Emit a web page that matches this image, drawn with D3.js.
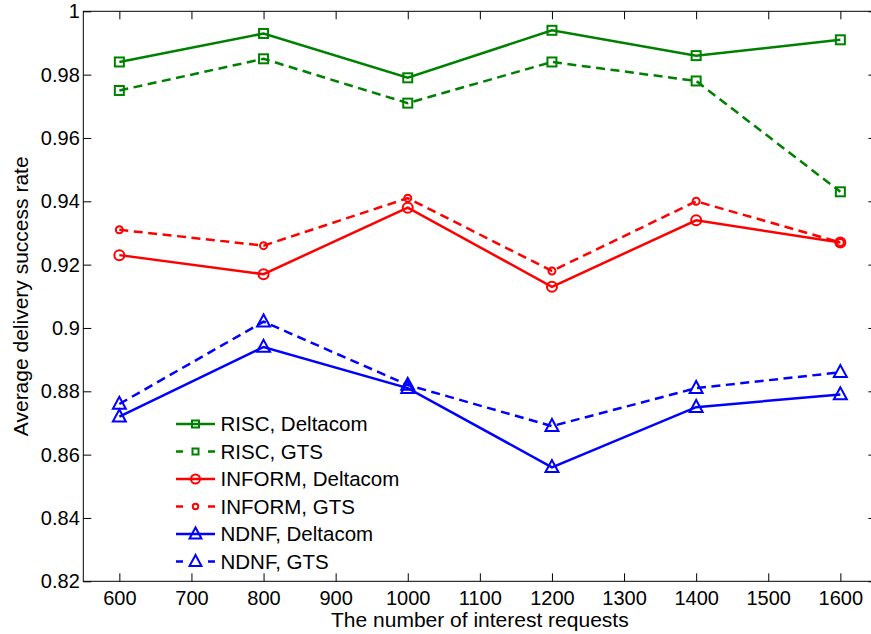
<!DOCTYPE html>
<html><head><meta charset="utf-8">
<script src="https://cdn.jsdelivr.net/npm/d3@7"></script>
<style>
html,body{margin:0;padding:0;background:#fff;}
svg{display:block;font-family:"Liberation Sans",Arial,Helvetica,sans-serif;}
</style></head>
<body><svg id="chart" width="871" height="634"></svg>
<script>
const requests = [600, 800, 1000, 1200, 1400, 1600];
const xTicks = [600, 700, 800, 900, 1000, 1100, 1200, 1300, 1400, 1500, 1600];
const yTicks = [0.82, 0.84, 0.86, 0.88, 0.9, 0.92, 0.94, 0.96, 0.98, 1];
const yTickLabels = ["0.82","0.84","0.86","0.88","0.9","0.92","0.94","0.96","0.98","1"];

const riscDeltacom   = [0.984, 0.993, 0.979, 0.994, 0.986, 0.991];
const riscGTS        = [0.975, 0.985, 0.971, 0.984, 0.978, 0.943];
const informDeltacom = [0.923, 0.917, 0.938, 0.913, 0.934, 0.927];
const informGTS      = [0.931, 0.926, 0.941, 0.918, 0.940, 0.927];
const ndnfDeltacom   = [0.872, 0.894, 0.881, 0.856, 0.875, 0.879];
const ndnfGTS        = [0.876, 0.902, 0.882, 0.869, 0.881, 0.886];

const seriesNames = ["RISC, Deltacom","RISC, GTS","INFORM, Deltacom","INFORM, GTS","NDNF, Deltacom","NDNF, GTS"];

const series = [
  {name: seriesNames[0], values: riscDeltacom,   color:"#008000", dashed:false, marker:"square", size:9,  lsize:7},
  {name: seriesNames[1], values: riscGTS,        color:"#008000", dashed:true,  marker:"square", size:9,  lsize:6},
  {name: seriesNames[2], values: informDeltacom, color:"#ff0000", dashed:false, marker:"circle", size:10, lsize:9},
  {name: seriesNames[3], values: informGTS,      color:"#ff0000", dashed:true,  marker:"circle", size:7,  lsize:5.5},
  {name: seriesNames[4], values: ndnfDeltacom,   color:"#0000ff", dashed:false, marker:"triangle", size:12, lsize:11},
  {name: seriesNames[5], values: ndnfGTS,        color:"#0000ff", dashed:true,  marker:"triangle", size:12, lsize:11}
];

const svg = d3.select("#chart");
const L = 83.3, R = 876.4, T = 11.3, B = 581.3;
const x = d3.scaleLinear().domain([550, 1650]).range([L, R]);
const y = d3.scaleLinear().domain([0.82, 1]).range([B, T]);
const tickFont = 20;
const labelFont = 21;
const legendFont = 20.5;

svg.append("rect").attr("x", L).attr("y", T).attr("width", R - L).attr("height", B - T)
  .attr("fill", "none").attr("stroke", "#000").attr("stroke-width", 1);

function styleAxis(g){
  g.select(".domain").remove();
  g.selectAll(".tick line").attr("stroke", "#000").attr("stroke-width", 1);
  g.selectAll(".tick text").attr("fill", "#000").style("font-size", tickFont + "px")
    .style("font-family", '"Liberation Sans",Arial,Helvetica,sans-serif');
}

svg.append("g").attr("transform", `translate(0,${B})`)
  .call(d3.axisBottom(x).tickValues(xTicks).tickFormat(d3.format("d")).tickSizeInner(-8).tickSizeOuter(0).tickPadding(10))
  .call(styleAxis);
svg.append("g").attr("transform", `translate(0,${T})`)
  .call(d3.axisTop(x).tickValues(xTicks).tickFormat("").tickSizeInner(-8).tickSizeOuter(0))
  .call(styleAxis);
svg.append("g").attr("transform", `translate(${L},0)`)
  .call(d3.axisLeft(y).tickValues(yTicks).tickFormat((d,i) => yTickLabels[i]).tickSizeInner(-8).tickSizeOuter(0).tickPadding(3.5))
  .call(styleAxis);
svg.append("g").attr("transform", `translate(${R},0)`)
  .call(d3.axisRight(y).tickValues(yTicks).tickFormat("").tickSizeInner(-8).tickSizeOuter(0))
  .call(styleAxis);

svg.append("text").attr("x", (L + R) / 2).attr("y", 626.5).attr("text-anchor", "middle")
  .style("font-size", labelFont + "px").text("The number of interest requests");
svg.append("text").attr("transform", `translate(27.5,${(T + B) / 2}) rotate(-90)`).attr("text-anchor", "middle")
  .style("font-size", labelFont + "px").text("Average delivery success rate");

function drawMarker(g, type, cx, cy, size, color){
  if (type === "square") {
    g.append("rect").attr("x", cx - size/2).attr("y", cy - size/2).attr("width", size).attr("height", size)
      .attr("fill", "none").attr("stroke", color).attr("stroke-width", 2);
  } else if (type === "circle") {
    g.append("circle").attr("cx", cx).attr("cy", cy).attr("r", size/2)
      .attr("fill", "none").attr("stroke", color).attr("stroke-width", 2);
  } else {
    const w = size * 1.08, h = size;
    const pts = [[cx, cy - h*0.6], [cx - w/2, cy + h*0.4], [cx + w/2, cy + h*0.4]];
    g.append("polygon").attr("points", pts.map(p => p.join(",")).join(" "))
      .attr("fill", "none").attr("stroke", color).attr("stroke-width", 2).attr("stroke-linejoin", "miter");
  }
}

const line = d3.line().x(d => x(d[0])).y(d => y(d[1]));
const plot = svg.append("g");
series.forEach(s => {
  const pts = requests.map((r, i) => [r, s.values[i]]);
  const g = plot.append("g");
  g.append("path").attr("d", line(pts)).attr("fill", "none").attr("stroke", s.color)
    .attr("stroke-width", 2.5).attr("stroke-dasharray", s.dashed ? "9,5.5" : null);
  pts.forEach(p => drawMarker(g, s.marker, x(p[0]), y(p[1]), s.size, s.color));
});

const legX0 = 176, legX1 = 215, legTextX = 220.5, legY0 = 424, legDy = 27.5;
const leg = svg.append("g");
series.forEach((s, i) => {
  const ly = legY0 + i * legDy;
  leg.append("line").attr("x1", legX0).attr("x2", legX1).attr("y1", ly).attr("y2", ly)
    .attr("stroke", s.color).attr("stroke-width", 2.5).attr("stroke-dasharray", s.dashed ? "7,25" : null);
  drawMarker(leg, s.marker, (legX0 + legX1) / 2, ly, s.lsize, s.color);
  leg.append("text").attr("x", legTextX).attr("y", ly).attr("dy", "0.36em")
    .style("font-size", legendFont + "px").text(s.name);
});
</script></body></html>
